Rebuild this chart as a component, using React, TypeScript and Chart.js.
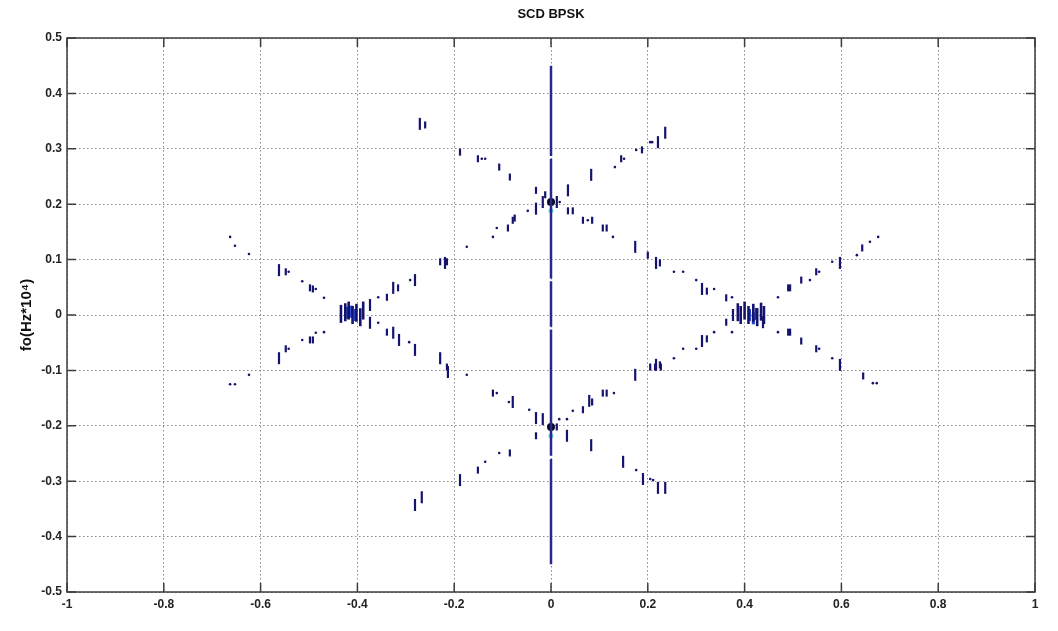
import React, { useEffect, useRef } from "react";
import { Chart, registerables } from "chart.js";

Chart.register(...registerables);

const chartTitle = "SCD BPSK";
const yAxisTitle = "fo(Hz*10⁴)";
const xTickValues = [-1, -0.8, -0.6, -0.4, -0.2, 0, 0.2, 0.4, 0.6, 0.8, 1];
const yTickValues = [-0.5, -0.4, -0.3, -0.2, -0.1, 0, 0.1, 0.2, 0.3, 0.4, 0.5];

// vertical ridge at alpha = 0 : [yStart, yEnd] segments
const centerRidge: [number, number][] = [
  [0.45, 0.287],
  [0.282, 0.066],
  [0.061, -0.021],
  [-0.026, -0.254],
  [-0.26, -0.45],
];

const longDashes: [number, number][] = [
  [-0.271, 0.345], [-0.017, 0.204], [0.012, 0.204], [0.083, 0.253], [0.221, 0.312], [0.236, 0.329],
  [-0.219, 0.094], [-0.281, 0.063], [-0.326, 0.049], [-0.374, 0.018],
  [0.174, 0.123], [0.217, 0.094], [0.312, 0.047], [0.376, 0.0],
  [0.438, -0.013], [0.597, 0.094], [0.597, -0.09],
  [0.312, -0.047], [0.217, -0.09], [0.174, -0.108],
  [0.079, -0.155], [0.033, -0.218], [0.083, -0.235],
  [-0.017, -0.188], [-0.031, -0.186], [-0.079, -0.157], [-0.213, -0.103], [-0.229, -0.078],
  [-0.281, -0.063], [-0.314, -0.045], [-0.326, -0.032], [-0.374, -0.014],
  [-0.188, -0.298], [-0.267, -0.329], [-0.281, -0.343],
  [0.149, -0.265], [0.19, -0.296], [0.221, -0.312], [0.236, -0.312],
  [-0.562, 0.081], [-0.562, -0.078], [0.035, 0.225], [-0.031, 0.192],
];

const shortDashes: [number, number][] = [
  [-0.26, 0.343], [-0.188, 0.294], [-0.151, 0.282], [-0.107, 0.267], [-0.085, 0.249], [-0.031, 0.225], [-0.012, 0.217],
  [0.145, 0.282], [0.188, 0.298],
  [-0.079, 0.171], [-0.075, 0.175], [-0.089, 0.157], [-0.215, 0.096], [-0.229, 0.096], [-0.316, 0.049], [-0.339, 0.032],
  [0.045, 0.188], [0.035, 0.188], [0.066, 0.171], [0.085, 0.171], [0.107, 0.157], [0.115, 0.157], [0.2, 0.108],
  [0.225, 0.094], [0.322, 0.043], [0.362, 0.031],
  [0.49, 0.049], [0.494, 0.049], [0.517, 0.063], [0.548, 0.078], [0.643, 0.121],
  [0.49, -0.031], [0.494, -0.031], [0.517, -0.047], [0.548, -0.061], [0.645, -0.11],
  [0.362, -0.013], [0.322, -0.043], [0.225, -0.09], [0.205, -0.094], [0.215, -0.094], [0.227, -0.094],
  [0.107, -0.141], [0.115, -0.141], [0.085, -0.157], [0.066, -0.171], [0.012, -0.202],
  [-0.12, -0.141], [-0.215, -0.094], [-0.339, -0.031], [-0.031, -0.218],
  [-0.085, -0.249], [-0.151, -0.28],
  [-0.498, 0.049], [-0.492, 0.047], [-0.548, 0.078],
  [-0.498, -0.045], [-0.492, -0.045], [-0.548, -0.061],
];

const dots: [number, number][] = [
  [-0.143, 0.282], [-0.136, 0.282], [0.018, 0.204], [0.132, 0.267], [0.151, 0.282], [0.176, 0.298], [0.205, 0.312], [0.209, 0.312],
  [-0.048, 0.188], [-0.112, 0.157], [-0.12, 0.141], [-0.174, 0.123], [-0.291, 0.063], [-0.357, 0.032],
  [0.076, 0.171], [0.128, 0.141], [0.254, 0.078], [0.273, 0.078], [0.3, 0.063], [0.337, 0.047], [0.374, 0.032],
  [0.469, 0.032], [0.535, 0.063], [0.554, 0.078], [0.581, 0.096], [0.632, 0.108], [0.659, 0.132], [0.676, 0.141],
  [0.469, -0.031], [0.554, -0.061], [0.581, -0.078], [0.665, -0.123], [0.673, -0.123],
  [0.374, -0.031], [0.337, -0.031], [0.3, -0.061], [0.273, -0.061], [0.254, -0.078],
  [0.13, -0.141], [0.045, -0.173], [0.033, -0.188], [0.017, -0.188],
  [-0.045, -0.171], [-0.087, -0.157], [-0.112, -0.141], [-0.174, -0.108], [-0.293, -0.049], [-0.357, -0.014],
  [-0.107, -0.249], [-0.136, -0.265], [0.176, -0.28], [0.205, -0.296], [0.211, -0.298],
  [-0.469, 0.031], [-0.486, 0.047], [-0.514, 0.061], [-0.542, 0.078], [-0.624, 0.11], [-0.653, 0.125], [-0.663, 0.141],
  [-0.469, -0.031], [-0.486, -0.032], [-0.514, -0.045], [-0.542, -0.061], [-0.624, -0.108], [-0.663, -0.125], [-0.653, -0.125],
];

const clusterNavy: [number, number][] = [
  [-0.434, 0.002], [-0.425, 0.005], [-0.418, 0.008], [-0.41, 0.0], [-0.402, 0.004], [-0.394, -0.004], [-0.388, 0.008],
  [0.386, 0.005], [0.392, 0.0], [0.4, 0.008], [0.408, 0.0], [0.418, 0.004], [0.426, -0.004], [0.434, 0.006], [0.44, 0.0],
];

const clusterBlue: [number, number][] = [
  [-0.42, 0.004], [-0.412, 0.006], [-0.404, 0.0],
  [0.41, 0.0], [0.418, -0.006], [0.424, 0.002],
];

const peaks: [number, number][] = [
  [0, 0.204], [0, -0.202],
];

const peakHalo: [number, number][] = [
  [0, 0.188], [0, -0.218],
];

const toPts = (arr: [number, number][]) => arr.map(([x, y]) => ({ x, y }));
const fmt = (v: number) => String(Math.round(v * 10) / 10);

const NAVY = "#14146e";
const FONT = "'Liberation Sans', Arial, Helvetica, sans-serif";

const framePlugin = {
  id: "matlabFrame",
  afterDraw(chart: any) {
    const { ctx, chartArea } = chart;
    const { left, right, top, bottom } = chartArea;
    const xs = chart.scales.x;
    const ys = chart.scales.y;
    ctx.save();
    ctx.strokeStyle = "#3c3c3c";
    ctx.lineWidth = 1.5;
    ctx.strokeRect(left, top, right - left, bottom - top);
    const tl = 9;
    ctx.beginPath();
    xTickValues.forEach((v) => {
      const px = xs.getPixelForValue(v);
      ctx.moveTo(px, bottom);
      ctx.lineTo(px, bottom - tl);
      ctx.moveTo(px, top);
      ctx.lineTo(px, top + tl);
    });
    yTickValues.forEach((v) => {
      const py = ys.getPixelForValue(v);
      ctx.moveTo(left, py);
      ctx.lineTo(left + tl, py);
      ctx.moveTo(right, py);
      ctx.lineTo(right - tl, py);
    });
    ctx.stroke();
    // title centred over the axes box
    ctx.fillStyle = "#111";
    ctx.font = `bold 13px ${FONT}`;
    ctx.textAlign = "center";
    ctx.textBaseline = "middle";
    ctx.fillText(chartTitle, (left + right) / 2, 14);
    ctx.restore();
  },
};

export default function App() {
  const ref = useRef<HTMLCanvasElement | null>(null);

  useEffect(() => {
    if (!ref.current) return;
    const ridgeData: any[] = [];
    centerRidge.forEach(([a, b]) => {
      ridgeData.push({ x: 0, y: a }, { x: 0, y: b }, { x: 0, y: null });
    });

    const dashSet = (data: [number, number][], r: number, color: string, w: number) => ({
      type: "scatter" as const,
      data: toPts(data),
      pointStyle: "line",
      rotation: 90,
      pointRadius: r,
      borderColor: color,
      backgroundColor: color,
      borderWidth: w,
    });

    const chart = new Chart(ref.current, {
      type: "scatter",
      data: {
        datasets: [
          {
            type: "line",
            data: ridgeData,
            borderColor: "#28288e",
            borderWidth: 2.5,
            pointRadius: 0,
            spanGaps: false,
            fill: false,
          } as any,
          dashSet(longDashes, 6, NAVY, 2.2),
          dashSet(shortDashes, 3.5, NAVY, 2.2),
          {
            type: "scatter",
            data: toPts(dots),
            pointStyle: "circle",
            pointRadius: 1.3,
            borderWidth: 0,
            backgroundColor: NAVY,
          },
          dashSet(clusterNavy, 9, NAVY, 2.6),
          dashSet(clusterBlue, 6, "#1c3fd0", 3),
          {
            type: "scatter",
            data: toPts(peakHalo),
            pointStyle: "circle",
            pointRadius: 2.5,
            borderWidth: 0,
            backgroundColor: "#5fd8e8",
          },
          {
            type: "scatter",
            data: toPts(peaks),
            pointStyle: "circle",
            pointRadius: 4,
            borderWidth: 0,
            backgroundColor: "#0a0a20",
          },
        ] as any,
      },
      options: {
        animation: false,
        responsive: false,
        maintainAspectRatio: false,
        events: [],
        layout: { padding: { left: 0, right: 23, top: 38, bottom: 0 } },
        plugins: {
          legend: { display: false },
          tooltip: { enabled: false },
          title: { display: false },
        },
        scales: {
          x: {
            type: "linear",
            min: -1,
            max: 1,
            afterBuildTicks: (s: any) => {
              s.ticks = xTickValues.map((v) => ({ value: v }));
            },
            ticks: {
              callback: (v: any) => fmt(Number(v)),
              color: "#222",
              font: { family: FONT, size: 12, weight: "bold" },
              padding: 5,
              maxRotation: 0,
              autoSkip: false,
            },
            grid: { color: "#8a8a8a", lineWidth: 1, drawTicks: false },
            border: { display: false, dash: [1.5, 2.5] },
            afterFit: (s: any) => {
              s.height = 39;
            },
          },
          y: {
            type: "linear",
            min: -0.5,
            max: 0.5,
            afterBuildTicks: (s: any) => {
              s.ticks = yTickValues.map((v) => ({ value: v }));
            },
            ticks: {
              callback: (v: any) => fmt(Number(v)),
              color: "#222",
              font: { family: FONT, size: 12, weight: "bold" },
              padding: 5,
              autoSkip: false,
            },
            grid: { color: "#8a8a8a", lineWidth: 1, drawTicks: false },
            border: { display: false, dash: [1.5, 2.5] },
            title: {
              display: true,
              text: yAxisTitle,
              color: "#111",
              font: { family: FONT, size: 15, weight: "bold" },
              padding: { top: 18, bottom: 0 },
            },
            afterFit: (s: any) => {
              s.width = 67;
            },
          },
        },
      } as any,
      plugins: [framePlugin],
    });
    return () => chart.destroy();
  }, []);

  return (
    <div style={{ position: "fixed", left: 0, top: 0, width: 1058, height: 631, background: "#fff" }}>
      <canvas ref={ref} width={1058} height={631} style={{ width: 1058, height: 631, display: "block" }} />
    </div>
  );
}
